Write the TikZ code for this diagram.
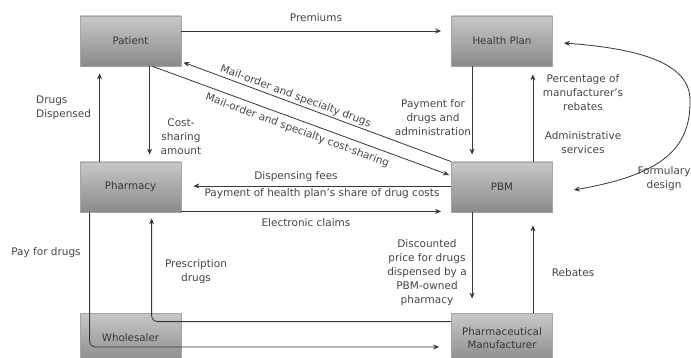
\documentclass[tikz,border=0pt]{standalone}
\usepackage{fontspec}
\setmainfont{DejaVu Sans}
\usetikzlibrary{calc,arrows.meta}
\definecolor{boxtop}{RGB}{200,200,200}
\definecolor{boxbot}{RGB}{138,138,138}
\definecolor{boxline}{RGB}{165,165,165}
\definecolor{ink}{RGB}{55,55,55}
\definecolor{txt}{RGB}{70,70,70}
\tikzset{
  box/.style={draw=boxline, line width=0.8pt, top color=boxtop, bottom color=boxbot,
    minimum width=101pt, minimum height=50pt, inner sep=0pt, align=center,
    text=txt!80!black, font=\fontsize{10.3}{13}\selectfont},
  conn/.style={draw=ink, line width=0.8pt, -{Stealth[length=6pt,width=5pt]}},
  both/.style={draw=ink, line width=0.8pt, {Stealth[length=6pt,width=5pt]}-{Stealth[length=6pt,width=5pt]}},
  lbl/.style={text=txt, font=\fontsize{10.5}{14}\selectfont, align=center, inner sep=1pt},
}
\begin{document}
\begin{tikzpicture}[x=1pt,y=-1pt]
\useasboundingbox[fill=white] (0,0) rectangle (691,358);
% boxes
\node[box] (pat) at (130.5,41) {Patient};
\node[box] (hp)  at (502,41) {Health Plan};
\node[box] (ph)  at (130.5,187) {Pharmacy};
\node[box] (pbm) at (502,187) {PBM};
\node[box] (wh)  at (130.5,338) {Wholesaler};
\node[box] (man) at (502,338) {Pharmaceutical\\Manufacturer};

% Premiums
\draw[conn] ($(pat.east)+(0,-10)$) -- ($(hp.west)+(-10,-10)$);
\node[lbl] (lprem) at (316,18) {Premiums};

% Patient <-> Pharmacy
\draw[conn] ($(ph.north west)+(20,0)$) -- ($(pat.south west)+(20,7)$);
\node[lbl, align=left, anchor=west] (ldisp) at (35,108) {Drugs\\Dispensed};
\draw[conn] ($(pat.south west)+(70,0)$) -- ($(ph.north west)+(70,-7)$);
\node[lbl] (lcost) at (181,137) {Cost-\\sharing\\amount};

% Health plan <-> PBM
\draw[conn] ($(hp.south west)+(21,0)$) -- ($(pbm.north west)+(21,-7)$);
\node[lbl] (lpay) at (433,118) {Payment for\\drugs and\\administration};
\draw[conn] ($(pbm.north east)+(-20,0)$) -- ($(hp.south east)+(-20,8)$);
\node[lbl] (lperc) at (583,93) {Percentage of\\manufacturer's\\rebates};
\node[lbl] (ladm) at (583,143) {Administrative\\services};

% Formulary design
\draw[both] ($(pbm.east)+(21,3)$) .. controls (660,175) and (691,150) .. (690,100)
   .. controls (690,60) and (630,48) .. ($(hp.east)+(11,2)$);
\node[lbl] (lform) at (664,179) {Formulary\\design};

% Mail-order diagonals
\draw[conn] (pbm.north west) -- node[lbl, sloped, above=0.5pt, pos=0.59] (lmail1) {Mail-order and specialty drugs} ($(pat.south east)+(2,-4)$);
\draw[conn] ($(pat.south west)+(73,0)$) -- node[lbl, sloped, below=4pt, pos=0.5] (lmail2) {Mail-order and specialty cost-sharing} ($(pbm.west)+(-2,-12)$);

% PBM -> Pharmacy
\draw[conn] ($(pbm.west)+(0,-1)$) -- ($(ph.east)+(12,-1)$);
\node[lbl] (lfees) at (296,177) {Dispensing fees};
\node[lbl] (lshare) at (322,194) {Payment of health plan's share of drug costs};

% Pharmacy -> PBM
\draw[conn] ($(ph.south east)+(0,-1)$) -- ($(pbm.south west)+(-10,-1)$);
\node[lbl] (lclaims) at (306,223) {Electronic claims};

% PBM <-> Manufacturer
\draw[conn] ($(pbm.south west)+(21,0)$) -- ($(man.north west)+(21,-14)$);
\node[lbl] (ldisc) at (427,273) {Discounted\\price for drugs\\dispensed by a\\PBM-owned\\pharmacy};
\draw[conn] ($(man.north east)+(-20,0)$) -- ($(pbm.south east)+(-20,13)$);
\node[lbl] (lreb) at (573,273) {Rebates};

% Manufacturer -> Pharmacy
\draw[conn, rounded corners=6pt] ($(man.north west)+(0,9)$) -| ($(ph.south west)+(72,6)$);
\node[lbl] (lpresc) at (196,272) {Prescription\\drugs};

% Pharmacy -> Manufacturer (pay)
\draw[conn, rounded corners=6pt] ($(ph.south west)+(10,0)$) |- ($(man.west)+(-12,9)$);
\node[lbl] (lpd) at (46,253) {Pay for drugs};
\end{tikzpicture}
\end{document}
